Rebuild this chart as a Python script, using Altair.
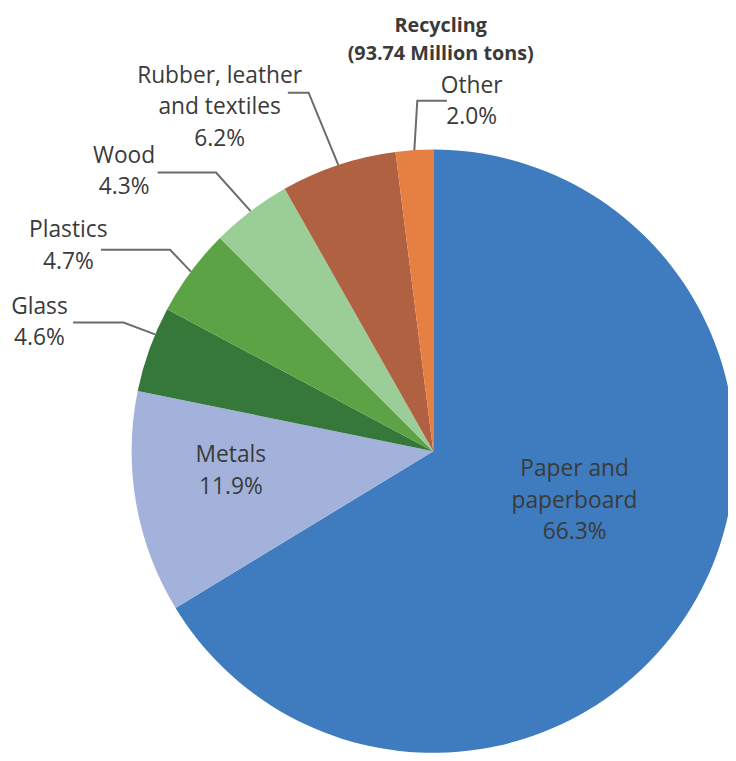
import altair as alt
import numpy as np
import pandas as pd

# ---------------- data ----------------
categories = ["Paper and paperboard", "Metals", "Glass", "Plastics", "Wood",
              "Rubber, leather and textiles", "Other"]
percents = [66.3, 11.9, 4.6, 4.7, 4.3, 6.2, 2.0]
name_lines = [["Paper and", "paperboard"], ["Metals"], ["Glass"], ["Plastics"],
              ["Wood"], ["Rubber, leather", "and textiles"], ["Other"]]
colors = ["#3F7CBF", "#A3B2DB", "#36783A", "#5CA345", "#9ACE96", "#B06142", "#E67F42"]
title_lines = ["Recycling", "(93.74 Million tons)"]

# ---------------- layout ----------------
W, H = 728, 745
CX, CY = 430, 444
R = 305
FONT = "Open Sans"
TEXT_COLOR = "#3a3a3a"
LEADER_COLOR = "#6b6b6b"

# inside labels: (fraction of slice angle, radius) of first-line baseline
inside = {"Paper and paperboard": (0.4186, 145), "Metals": (0.658, 205)}
# outside labels: anchor fraction, elbow dx, elbow dy, horizontal run, label dx, label dy
outside = {
    "Glass": (0.68, -32, -12, -51, -34, -9),
    "Plastics": (0.5, -21, -22, -70, -33, -13),
    "Wood": (0.5, -35, -39, -59, -34, -10),
    "Rubber, leather and textiles": (0.5, -30, -73, -21, -69, -10),
    "Other": (0.5, 3, -50, 30, 25, -8),
}

starts = np.concatenate([[0.0], np.cumsum(percents)[:-1]])


def polar(cat_idx, frac, r):
    ang = (starts[cat_idx] + frac * percents[cat_idx]) / 100.0 * 2 * np.pi
    return CX + r * np.sin(ang), CY - r * np.cos(ang)


slices = pd.DataFrame({"cat": categories, "pct": percents, "idx": range(len(categories))})

label_rows, line_rows = [], []
for i, cat in enumerate(categories):
    text = "\n".join(name_lines[i] + [f"{percents[i]:.1f}%"])
    if cat in inside:
        f, r = inside[cat]
        x, y = polar(i, f, r)
        label_rows.append({"cat": cat, "x": x, "y": y, "text": text})
    else:
        f, edx, edy, run, ldx, ldy = outside[cat]
        sx, sy = polar(i, f, R)
        ex, ey = sx + edx, sy + edy
        tx, ty = ex + run, ey
        for k, (px, py) in enumerate([(sx, sy), (ex, ey), (tx, ty)]):
            line_rows.append({"cat": cat, "k": k, "x": px, "y": py})
        label_rows.append({"cat": cat, "x": tx + ldx, "y": ty + ldy, "text": text})

labels = pd.DataFrame(label_rows)
leaders = pd.DataFrame(line_rows)
title_df = pd.DataFrame({"x": [437.5], "y": [20.0], "text": ["\n".join(title_lines)]})

xs = alt.Scale(domain=[0, W], range=[0, W], nice=False, zero=False)
ys = alt.Scale(domain=[0, H], range=[0, H], nice=False, zero=False)

pie = alt.Chart(slices).mark_arc(radius=R).encode(
    theta=alt.Theta("pct:Q", stack=True),
    order=alt.Order("idx:Q"),
    color=alt.Color("cat:N", scale=alt.Scale(domain=categories, range=colors), legend=None),
    x=alt.value(CX),
    y=alt.value(CY),
)

lead = alt.Chart(leaders).mark_line(color=LEADER_COLOR, strokeWidth=2).encode(
    x=alt.X("x:Q", scale=xs, axis=None),
    y=alt.Y("y:Q", scale=ys, axis=None),
    detail="cat:N",
    order="k:Q",
)

text = alt.Chart(labels).mark_text(
    font=FONT, fontSize=23, color=TEXT_COLOR, align="center", baseline="alphabetic",
    lineBreak="\n", lineHeight=32,
).encode(
    x=alt.X("x:Q", scale=xs, axis=None),
    y=alt.Y("y:Q", scale=ys, axis=None),
    text="text:N",
)

title = alt.Chart(title_df).mark_text(
    font=FONT, fontSize=20, fontWeight="bold", color=TEXT_COLOR, align="center",
    baseline="alphabetic", lineBreak="\n", lineHeight=28,
).encode(
    x=alt.X("x:Q", scale=xs, axis=None),
    y=alt.Y("y:Q", scale=ys, axis=None),
    text="text:N",
)

chart = alt.layer(pie, lead, text, title).properties(
    width=W, height=H, autosize=alt.AutoSizeParams(type="none"), padding=0,
).configure_view(stroke=None)

chart.save("out.html", embed_options={"renderer": "svg", "actions": False})
